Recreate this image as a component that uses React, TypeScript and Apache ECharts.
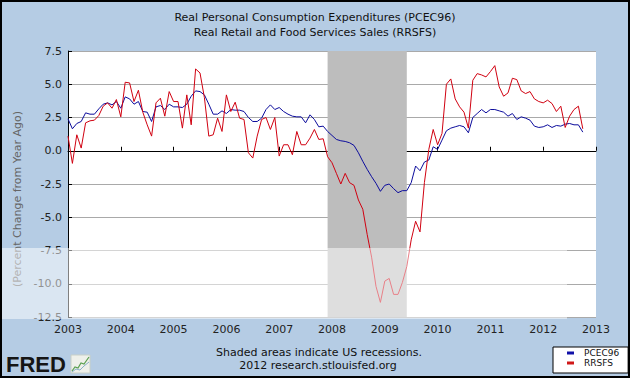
import React, { useEffect, useRef } from 'react';
import * as echarts from 'echarts';

const titleLines = [
  'Real Personal Consumption Expenditures (PCEC96)',
  'Real Retail and Food Services Sales (RRSFS)',
];
const yAxisName = '(Percent Change from Year Ago)';
const footerLines = ['Shaded areas indicate US recessions.', '2012 research.stlouisfed.org'];
const seriesNames = ['PCEC96', 'RRSFS'];
const startYear = 2003;
const xMin = 2003;
const xMax = 2013;
const yMin = -12.5;
const yMax = 7.5;
const yStep = 2.5;
// recession: Dec 2007 .. Jun 2009 (in decimal years)
const recessionStart = 2007 + 11 / 12;
const recessionEnd = 2009 + 5 / 12;

// monthly, Jan 2003 .. Oct 2012
const pcec96 = [
  2.4, 1.65, 2.05, 2.2, 2.85, 2.75, 2.75, 3.15, 3.5, 3.6, 3.45, 3.7,
  3.2, 4.05, 3.9, 3.5, 3.7, 2.95, 2.9, 2.2, 3.3, 3.4, 3.1, 3.5,
  3.3, 3.3, 3.25, 3.5, 4.1, 4.5, 4.45, 4.2, 3.5, 2.75, 2.75, 3.0,
  2.8, 3.1, 3.05, 3.05, 2.95, 2.5, 2.2, 2.2, 2.45, 3.1, 3.45, 3.1,
  3.25, 2.95, 2.75, 2.6, 2.55, 2.55, 2.1, 2.7, 2.35, 1.8, 1.85, 1.45,
  1.15, 0.85, 0.75, 0.7, 0.6, 0.4, -0.15, -0.8, -1.4, -1.95, -2.45, -3.05,
  -2.6, -2.5, -2.85, -3.15, -3.0, -3.0, -2.4, -1.15, -1.5, -0.85, -0.7, 0.3,
  0.1, 0.8, 1.5, 1.7, 1.8, 1.9, 1.8, 1.35, 2.5, 2.8, 3.1, 2.85,
  3.1, 3.1, 3.0, 2.9, 2.6, 2.8, 2.35, 2.55, 2.45, 2.3, 1.85, 1.75,
  1.8, 1.95, 1.75, 1.9, 1.85, 2.0, 2.05, 1.95, 1.95, 1.4,
];
const rrsfs = [
  1.1, -0.95, 1.2, 0.2, 2.1, 2.25, 2.3, 2.65, 3.35, 3.6, 3.2, 3.85,
  2.55, 5.15, 5.1, 3.7, 4.55, 2.9, 1.95, 1.1, 3.6, 3.95, 2.6, 4.45,
  3.7, 3.7, 1.7, 4.2, 1.95, 6.15, 5.85, 4.0, 1.1, 1.2, 2.45, 1.45,
  4.2, 2.95, 3.65, 2.45, 2.35, -0.15, -0.55, 1.1, 2.35, 2.5, 1.6, 2.5,
  -0.4, 0.45, 0.45, -0.3, 1.45, 0.45, 0.45, 0.95, 1.6, 0.85, 0.9, -0.45,
  -0.9, -1.7, -2.5, -1.7, -2.4, -2.6, -3.7, -4.4, -6.3, -8.0, -10.2, -11.4,
  -9.8, -9.6, -10.8, -10.8, -9.9, -8.7, -6.7, -5.3, -6.1, -2.4, 0.1, 1.6,
  0.45, 1.3, 5.0, 5.4, 3.9, 3.3, 2.9, 1.7, 5.3, 5.8, 5.7, 5.55,
  5.95, 6.4, 4.8, 4.1, 4.35, 5.45, 5.35, 4.5, 4.3, 4.45, 3.9, 3.7,
  3.6, 3.8, 3.55, 2.95, 3.35, 1.75, 2.6, 3.1, 3.35, 1.65,
];

const FONT = 'DejaVu Sans';
const toPoints = (arr: number[]) => arr.map((v, i) => [startYear + i / 12, v]);

export default function App() {
  const ref = useRef<HTMLDivElement>(null);
  useEffect(() => {
    if (!ref.current) return;
    const chart = echarts.init(ref.current, undefined, { renderer: 'svg' });
    const option: any = {
      animation: false,
      backgroundColor: '#b5cce4',
      textStyle: { fontFamily: FONT },
      title: {
        text: titleLines.join('\n'),
        left: 'center',
        top: 5,
        textStyle: { fontSize: 11, fontWeight: 'normal', color: '#111', lineHeight: 15, fontFamily: FONT },
      },
      grid: { left: 68, top: 51, width: 528, height: 266, backgroundColor: '#fff', show: true, borderWidth: 0 },
      legend: {
        data: seriesNames,
        orient: 'vertical',
        left: 553,
        top: 347,
        backgroundColor: '#fff',
        borderColor: '#000',
        borderWidth: 1,
        borderRadius: 0,
        padding: [1, 9, 5, 14],
        itemWidth: 7,
        itemHeight: 3,
        itemGap: 0,
        icon: 'rect',
        textStyle: { fontSize: 9, color: '#111', lineHeight: 10, padding: [0, 0, 0, 5], fontFamily: FONT },
      },
      xAxis: {
        type: 'value',
        min: xMin,
        max: xMax,
        interval: 1,
        axisLine: { show: true, lineStyle: { color: '#000', width: 1 } },
        axisTick: { show: true, inside: true, length: 4, lineStyle: { color: '#000' } },
        axisLabel: { formatter: (v: number) => String(v), margin: 7, fontSize: 11, color: '#222', fontFamily: FONT },
        splitLine: { show: false },
      },
      yAxis: {
        type: 'value',
        min: yMin,
        max: yMax,
        interval: yStep,
        axisLine: { show: true, lineStyle: { color: '#000', width: 1 } },
        axisTick: { show: true, inside: true, length: 4, lineStyle: { color: '#000' } },
        axisLabel: { formatter: (v: number) => v.toFixed(1), margin: 6, fontSize: 11, color: '#222', fontFamily: FONT },
        splitLine: { show: true, lineStyle: { color: '#a9a9a9', width: 1 } },
      },
      series: [
        {
          name: 'Recession',
          type: 'line',
          data: [],
          z: 1,
          markArea: {
            silent: true,
            itemStyle: { color: '#bdbdbd' },
            data: [[{ xAxis: recessionStart }, { xAxis: recessionEnd }]],
          },
        },
        {
          name: seriesNames[0],
          type: 'line',
          data: toPoints(pcec96),
          showSymbol: false,
          symbol: 'none',
          color: '#1010a8',
          lineStyle: { width: 1, color: '#0c0c9c' },
          z: 3,
        },
        {
          name: seriesNames[1],
          type: 'line',
          data: toPoints(rrsfs),
          showSymbol: false,
          symbol: 'none',
          color: '#d01818',
          lineStyle: { width: 1, color: '#d00010' },
          z: 4,
        },
      ],
      graphic: [
        {
          type: 'text',
          x: 17,
          y: 199,
          rotation: Math.PI / 2,
          style: { text: yAxisName, fill: '#666', font: `11px "${FONT}"`, align: 'center', verticalAlign: 'middle' },
        },
        {
          type: 'text',
          x: 319,
          y: 352,
          style: { text: footerLines[0], fill: '#111', font: `11px "${FONT}"`, align: 'center', verticalAlign: 'middle' },
        },
        {
          type: 'text',
          x: 318,
          y: 365,
          style: { text: footerLines[1], fill: '#111', font: `11px "${FONT}"`, align: 'center', verticalAlign: 'middle' },
        },
        {
          type: 'text',
          x: 6,
          y: 364,
          style: { text: 'FRED', fill: '#151515', font: 'bold 22px "Liberation Sans"', align: 'left', verticalAlign: 'middle' },
        },
        {
          type: 'rect',
          shape: { x: 71, y: 355, width: 19, height: 18 },
          style: { fill: '#eef0ea', stroke: '#c8d0c8', lineWidth: 1 },
        },
        {
          type: 'polyline',
          shape: { points: [[72, 371], [75, 367], [78, 368], [81, 363], [84, 364], [89, 357]] },
          style: { stroke: '#5aa050', lineWidth: 1.2, fill: null },
        },
        {
          type: 'polyline',
          shape: { points: [[72, 372], [76, 369], [80, 370], [84, 366], [89, 362]] },
          style: { stroke: '#88b0c8', lineWidth: 1, fill: null },
        },
        {
          type: 'rect',
          z: 100,
          shape: { x: 0, y: 248, width: 567, height: 71 },
          style: { fill: 'rgba(255,255,255,0.5)' },
        },
        {
          type: 'rect',
          z: 101,
          shape: { x: 1, y: 1, width: 628, height: 376 },
          style: { fill: null, stroke: '#000', lineWidth: 2 },
        },
      ],
    };
    chart.setOption(option);
    return () => chart.dispose();
  }, []);
  return <div ref={ref} style={{ position: 'absolute', left: 0, top: 0, width: 630, height: 378 }} />;
}
